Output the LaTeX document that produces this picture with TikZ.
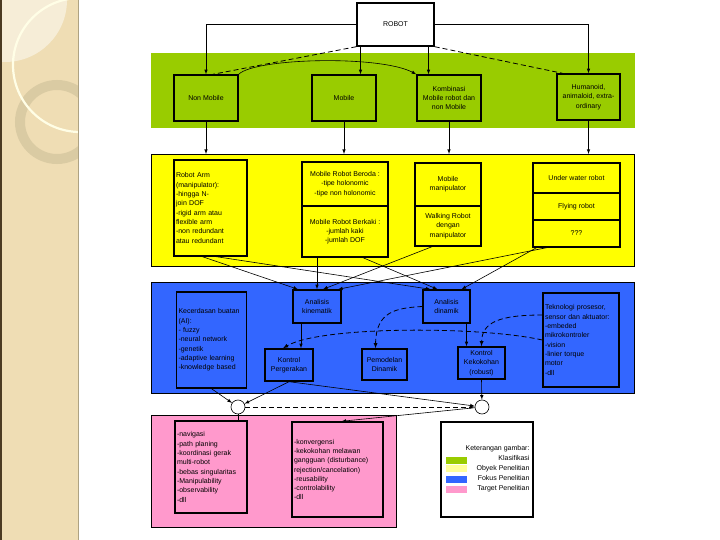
\documentclass[tikz,border=0pt]{standalone}
\usepackage{fontspec}
\setmainfont{Liberation Sans}
\usepackage{tikz}
\usetikzlibrary{arrows}

\definecolor{klhijau}{HTML}{99CC00}
\definecolor{klkuning}{HTML}{FFFF00}
\definecolor{klbiru}{HTML}{3366FF}
\definecolor{klpink}{HTML}{FF99CC}
\definecolor{klpucat}{HTML}{FFFF99}
\definecolor{panel}{HTML}{EFDDB4}
\definecolor{panelterang}{HTML}{F6EDD7}
\definecolor{cincin}{HTML}{DACBA3}
\definecolor{tepi}{HTML}{4B3A22}

\tikzset{
	band/.style={draw=black, line width=0.8pt, inner sep=0pt, anchor=north west},
	kotak/.style={draw=black, line width=1.4pt, inner sep=2pt, align=center,
		font=\fontsize{7}{9.3}\selectfont},
	kotakkiri/.style={kotak, align=left},
	panah/.style={-latex, line width=0.6pt},
	garis/.style={line width=0.6pt},
	putus/.style={dash pattern=on 5pt off 3pt, line width=0.8pt},
	simpul/.style={circle, draw, fill=white, minimum size=14pt, inner sep=0pt, line width=0.6pt},
}

\begin{document}
\begin{tikzpicture}[x=1pt, y=-1pt]
	\useasboundingbox (0,0) rectangle (720,540);
	% panel kiri
	\begin{scope}
		\clip (0,0) rectangle (78,540);
		\fill[panel] (0,0) rectangle (78,540);
		\fill[panelterang] (5,0) circle (62pt);
		\draw[cincin, line width=10pt] (57,122) circle (37pt);
		\draw[white!90!yellow, line width=2.2pt] (80,65) circle (67pt);
	\end{scope}
	\draw[tepi, line width=2pt] (1,0) -- (1,540);
	\draw[cincin!80!black, line width=0.8pt] (78,0) -- (78,540);

	% latar warna
	\node[band, fill=klhijau, draw=none, minimum width=484pt, minimum height=75pt] (hijau) at (151,53) {};
	\node[band, fill=klkuning, line width=1pt, minimum width=483pt, minimum height=112pt] (kuning) at (151,154) {};
	\node[band, fill=klbiru, minimum width=483pt, minimum height=111pt] (biru) at (151,282) {};
	\node[band, fill=klpink, line width=0.6pt, minimum width=245pt, minimum height=112pt] (pink) at (151,415) {};

	% klasifikasi
	\node[kotak, fill=white, minimum width=77pt, minimum height=43pt] (robot) at (395.5,24.5) {ROBOT};
	\node[kotak, fill=klhijau, minimum width=64pt, minimum height=46pt] (nonmobile) at (206,98) {Non Mobile};
	\node[kotak, fill=klhijau, minimum width=64pt, minimum height=46pt] (mobile) at (344,98) {Mobile};
	\node[kotak, fill=klhijau, minimum width=64pt, minimum height=46pt] (kombinasi) at (449,98) {Kombinasi\\Mobile robot dan\\non Mobile};
	\node[kotak, fill=klhijau, minimum width=63pt, minimum height=46pt] (humanoid) at (588.5,97) {Humanoid,\\animaloid, extra-\\ordinary};

	% obyek
	\node[kotakkiri, fill=klkuning, text width=69pt, minimum height=96pt] (robotarm) at (210.5,208) {Robot Arm\\(manipulator):\\-hingga N-\\join DOF\\-rigid arm atau\\flexible arm\\-non redundant\\atau redundant};
	\node[kotak, fill=klkuning, minimum width=86pt, minimum height=44pt] (beroda) at (345,184) {Mobile Robot Beroda :\\-tipe holonomic\\-tipe non holonomic};
	\node[kotak, fill=klkuning, minimum width=86pt, minimum height=51pt] (berkaki) at (345,231.5) {Mobile Robot Berkaki :\\-jumlah kaki\\-jumlah DOF};
	\node[kotak, fill=klkuning, minimum width=66pt, minimum height=43pt] (mobman) at (448,184.5) {Mobile\\manipulator};
	\node[kotak, fill=klkuning, minimum width=66pt, minimum height=40pt] (walking) at (448,226) {Walking Robot\\dengan\\manipulator};
	\node[kotak, fill=klkuning, minimum width=87pt, minimum height=30pt] (underwater) at (576.5,178) {Under water robot};
	\node[kotak, fill=klkuning, minimum width=87pt, minimum height=27pt] (flying) at (576.5,206.5) {Flying robot};
	\node[kotak, fill=klkuning, minimum width=87pt, minimum height=27pt] (tanya) at (576.5,233.5) {???};

	% fokus
	\node[kotakkiri, fill=klbiru, text width=66pt, minimum height=96pt] (kecerdasan) at (211.5,340) {Kecerdasan buatan\\(AI):\\- fuzzy\\-neural network\\-genetik\\-adaptive learning\\-knowledge based};
	\node[kotak, fill=klbiru, minimum width=48pt, minimum height=33pt] (kinematik) at (317,306.5) {Analisis\\kinematik};
	\node[kotak, fill=klbiru, minimum width=47pt, minimum height=33pt] (dinamik) at (446.5,306.5) {Analisis\\dinamik};
	\node[kotak, fill=klbiru, minimum width=48pt, minimum height=32pt] (kontrolgerak) at (289,365) {Kontrol\\Pergerakan};
	\node[kotak, fill=klbiru, minimum width=45pt, minimum height=31pt] (pemodelan) at (384.5,364.5) {Pemodelan\\Dinamik};
	\node[kotak, fill=klbiru, minimum width=47pt, minimum height=32pt] (kokoh) at (481.5,363) {Kontrol\\Kekokohan\\(robust)};
	\node[kotakkiri, fill=klbiru, text width=72pt, minimum height=94pt] (teknologi) at (581,340) {Teknologi prosesor,\\sensor dan aktuator:\\-embeded\\mikrokontroler\\-vision\\-linier torque\\motor\\-dll};

	% target
	\node[kotakkiri, fill=klpink, text width=68pt, minimum height=92pt] (target1) at (211,467) {-navigasi\\-path planing\\-koordinasi gerak\\multi-robot\\-bebas singularitas\\-Manipulability\\-observability\\-dll};
	\node[kotakkiri, fill=klpink, text width=87pt, minimum height=95pt] (target2) at (337.5,469.5) {-konvergensi\\-kekokohan melawan\\gangguan (disturbance)\\rejection/cancelation)\\-reusability\\-controlability\\-dll};
	\node[simpul] (j1) at (238,407) {};
	\node[simpul] (j2) at (482,407) {};

	% keterangan
	\node[kotak, fill=white, minimum width=92pt, minimum height=95pt] (legenda) at (487,469.5) {};
	\node[anchor=north east, align=right, inner sep=0pt, font=\fontsize{7}{10}\selectfont] (ketlegenda) at ([xshift=-4pt, yshift=-24pt]legenda.north east) {Keterangan gambar:\\Klasifikasi\\Obyek Penelitian\\Fokus Penelitian\\Target Penelitian};
	\fill[klhijau] (446,457) rectangle (467,464);
	\fill[klpucat] (446,465) rectangle (467,472);
	\fill[klbiru] (446,476) rectangle (467,483);
	\fill[klpink] (446,486) rectangle (467,493);

	% robot ke klasifikasi
	\draw[panah] (robot.west) -| (nonmobile.north);
	\draw[panah] (robot.east) -| (humanoid.north);
	\draw[panah] ([xshift=-35pt]robot.south) -- ([xshift=-35pt]robot.south |- mobile.north);
	\draw[panah] ([xshift=33pt]robot.south) -- ([xshift=33pt]robot.south |- kombinasi.north);
	\draw[putus] (robot.south west) -- ([xshift=7pt]nonmobile.north);
	\draw[putus] (robot.south east) -- ([xshift=-26pt]humanoid.north);
	\draw[panah] (nonmobile.north east) .. controls (255,58) and (380,55) .. (kombinasi.north west);

	% klasifikasi ke obyek
	\foreach \n in {nonmobile, mobile, kombinasi, humanoid}
		\draw[panah] (\n.south) -- (\n.south |- kuning.north);

	% obyek ke fokus
	\draw[panah] ([xshift=-8pt]robotarm.south) -- ([xshift=-19pt]kinematik.north);
	\draw[panah] ([xshift=6pt]robotarm.south) -- ([xshift=-16pt]dinamik.north);
	\draw[panah] (berkaki.south -| kinematik.north) -- (kinematik.north);
	\draw[panah] ([xshift=18pt]berkaki.south) -- ([xshift=-9pt]dinamik.north);
	\draw[panah] ([xshift=-16pt]walking.south) -- ([xshift=6pt]kinematik.north);
	\draw[panah] ([xshift=-30pt]tanya.south) -- ([xshift=21pt]kinematik.north);
	\draw[panah] ([xshift=-40pt]tanya.south) -- ([xshift=15pt]dinamik.north);

	% di dalam fokus
	\draw[panah] ([xshift=-16pt]kinematik.south) -- ([xshift=-16pt]kinematik.south |- kontrolgerak.north);
	\draw[panah] ([xshift=20pt]dinamik.south) -- ([xshift=20pt]dinamik.south |- kokoh.north);
	\draw[putus, -latex] (dinamik.west) .. controls (395,308) and (376,312) .. ([xshift=-9pt]pemodelan.north);
	\draw[putus, -latex] ([yshift=25pt]teknologi.west) .. controls (500,315) and (482,322) .. (kokoh.north);
	\draw[putus, -latex] (teknologi.west) .. controls (480,326) and (320,326) .. ([xshift=-6pt]kontrolgerak.north);

	% fokus ke target
	\draw[panah] (kecerdasan.south) -- (j1);
	\draw[panah] (kontrolgerak.south) -- (j1);
	\draw[panah] (kontrolgerak.south) -- (j2);
	\draw[panah] (kokoh.south) -- (j2);
	\draw[putus, -latex] (j1) -- (j2);
	\draw[garis] (j1.south) -- (j1.south |- target1.north);
	\draw[panah] (j2) -- ([xshift=4pt]target2.north);
\end{tikzpicture}
\end{document}
